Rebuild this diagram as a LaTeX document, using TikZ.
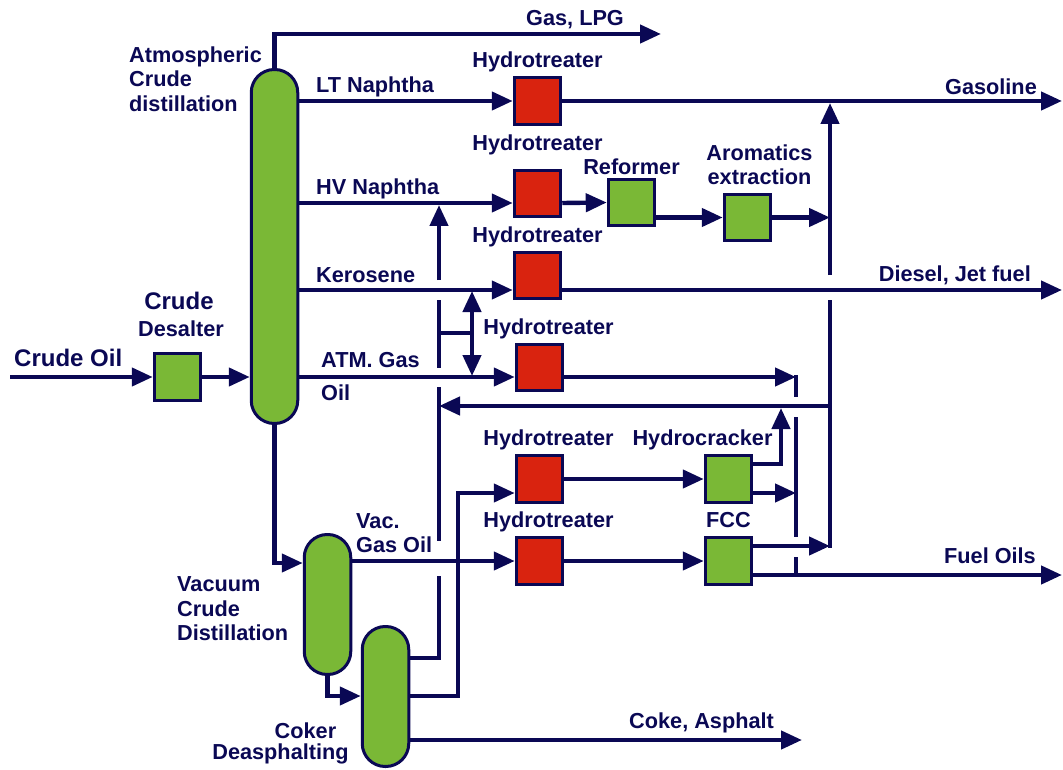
\documentclass[tikz,border=0pt]{standalone}
\usepackage{fontspec}
\setmainfont{Liberation Sans}
\usepackage{tikz}
\usetikzlibrary{arrows.meta,positioning}
\definecolor{myNavy}{RGB}{10,8,84}
\definecolor{myGreen}{RGB}{122,184,54}
\definecolor{myRed}{RGB}{217,35,15}
\tikzset{
    pipe/.style   = {line width=4.4pt, draw=myNavy},
    line/.style   = {pipe, -{Triangle[length=21pt,width=18pt]}},
    both/.style   = {pipe, {Triangle[length=21pt,width=18pt]}-{Triangle[length=21pt,width=18pt]}},
    unit/.style   = {draw=myNavy, line width=3pt, minimum size=46.5pt, inner sep=0pt},
    greenbox/.style = {unit, fill=myGreen},
    redbox/.style   = {unit, fill=myRed},
    column/.style   = {greenbox, minimum width=46.5pt, rounded corners=23pt},
    txt/.style    = {font=\bfseries\fontsize{21.7}{24.5}\selectfont, text=myNavy,
            inner sep=0pt, align=left},
    bigtxt/.style = {txt, font=\bfseries\fontsize{24}{26}\selectfont},
}
\begin{document}
\begin{tikzpicture}[x=1pt, y=-1pt, on grid]
    \useasboundingbox (0,0) rectangle (1063,770);
    % Units
    \node[redbox] (hLT) at (537.5,101) {};
    \node[redbox, below=92.5pt of hLT] (hHV) {};
    \node[redbox, below=82pt of hHV] (hKer) {};
    \node[redbox, below right=92pt and 2pt of hKer] (hAtm) {};
    \node[redbox, below=111.5pt of hAtm] (hCrack) {};
    \node[redbox, below=82pt of hCrack] (hFcc) {};
    \node[greenbox, below right=9pt and 94pt of hHV] (reformer) {};
    \node[greenbox, below right=15pt and 116pt of reformer] (aromatics) {};
    \node[greenbox, right=189pt of hCrack] (cracker) {};
    \node[greenbox, right=189pt of hFcc] (fcc) {};
    \node[greenbox] (desalter) at (177.5,377) {};
    \node[column, minimum height=354pt] (atm) at (274.5,246.5) {};
    \node[column, minimum height=140pt] (vacuum) at (327.5,604.5) {};
    \node[column, minimum height=140pt] (coker) at (385.5,696.5) {};

    % Free ends
    \coordinate (crudeIn) at (10,377);
    \coordinate (gasEnd) at (661,34);
    \coordinate (gasolineEnd) at (1062,101);
    \coordinate (dieselEnd) at (1062,290);
    \coordinate (fuelEnd) at (1062,575);
    \coordinate (cokeEnd) at (802,740);
    \coordinate (mainTop) at (830,103);
    \coordinate (mainA) at (830,275);
    \coordinate (mainB) at (830,300);
    \coordinate (mainC) at (830,548);
    \coordinate (recTop) at (439,205);
    \coordinate (recA) at (439,280);
    \coordinate (recB) at (439,300);
    \coordinate (recC) at (439,368);
    \coordinate (recD) at (439,387);
    \coordinate (recE) at (439,541);
    \coordinate (recF) at (439,576);
    \coordinate (recG) at (439,658);
    \coordinate (midA) at (796,375);
    \coordinate (midB) at (796,397);
    \coordinate (midC) at (796,417);
    \coordinate (midD) at (796,537);
    \coordinate (midE) at (796,557);
    \coordinate (midF) at (796,575);
    \coordinate (swing) at (472,333);

    % Arrows
    \draw[line] (crudeIn) -- (desalter);
    \draw[line] (desalter) -- (atm.west |- desalter);
    \draw[line] (atm.north) -- (atm.north |- gasEnd) -- (gasEnd);
    \draw[line] (atm.east |- hLT) -- (hLT);
    \draw[line] (atm.east |- 0,203) -- ([yshift=-9.5pt]hHV.west);
    \draw[line] (atm.east |- 0,290) -- ([yshift=-14.5pt]hKer.west);
    \draw[line] (atm.east |- desalter) -- ([yshift=-9.5pt]hAtm.west);
    \draw[line] (atm.south) |- (vacuum.west |- 0,563);
    \draw[line] (vacuum.south) |- (coker.west |- 0,696);
    \draw[line] (vacuum.east |- hFcc) -- (hFcc);
    \draw[line] (coker.east |- cokeEnd) -- (cokeEnd);
    \draw[line] (hLT) -- (gasolineEnd);
    \draw[line] ([yshift=-14.5pt]hKer.east) -- (dieselEnd);
    \draw[line] ([yshift=-9.5pt]hHV.east) -- (reformer.west);
    \draw[line] (reformer.east |- aromatics) -- (aromatics);
    \draw[line] (aromatics) -- (mainA |- aromatics);
    \draw[line] (mainA) -- (mainTop);
    \draw[pipe] (mainB) -- (mainC);
    \draw[line] (mainB |- 0,406) -- (recD |- 0,406);
    \draw[line] ([yshift=-9.5pt]hAtm.east) -- (796,377);
    \draw[pipe] (midA) -- (midB);
    \draw[pipe] (midC) -- (midD);
    \draw[pipe] (midE) -- (midF);
    \draw[line] (hCrack) -- (cracker);
    \draw[line] (hFcc) -- (fcc);
    \draw[line] ([yshift=15pt]cracker.east) -| (781,408);
    \draw[line] ([yshift=-14pt]cracker.east) -- (midD |- 0,493);
    \draw[line] ([yshift=15pt]fcc.east) -- (mainC |- 0,546);
    \draw[line] ([yshift=-14pt]fcc.east) -- (fuelEnd);
    \draw[line] (coker.east |- 0,696) -- (458,696) |- ([yshift=-14pt]hCrack.west);
    \draw[line] (recA) -- (recTop);
    \draw[pipe] (recB) -- (recC);
    \draw[pipe] (recD) -- (recE);
    \draw[pipe] (coker.east |- recG) -- (recG) -- (recF);
    \draw[pipe] (recB |- swing) -- (swing);
    \draw[both] (472,291) -- (472,376);

    % Labels
    \node[txt, anchor=center, above=39pt of hLT] (lHydroLT) {Hydrotreater};
    \node[txt, anchor=center, above=49pt of hHV] (lHydroHV) {Hydrotreater};
    \node[txt, anchor=center, above=39pt of hKer] (lHydroKer) {Hydrotreater};
    \node[txt, anchor=center, above=38.5pt of hAtm, xshift=9pt] (lHydroAtm) {Hydrotreater};
    \node[txt, anchor=center, above=39pt of hCrack, xshift=9pt] (lHydroCrack) {Hydrotreater};
    \node[txt, anchor=center, above=39pt of hFcc, xshift=9pt] (lHydroFcc) {Hydrotreater};
    \node[txt, anchor=center, above=35.5pt of reformer] (lReformer) {Reformer};
    \node[txt, anchor=center, above=39pt of cracker, xshift=-26pt] (lCracker) {Hydrocracker};
    \node[txt, anchor=center, above=40.5pt of fcc] (lFcc) {FCC};
    \node[txt, anchor=center, align=center, above=53pt of aromatics, xshift=12pt] (lAromatics) {Aromatics\\extraction};
    \node[bigtxt, anchor=center] (lCrude) at (179,301) {Crude};
    \node[txt, anchor=center] (lDesalter) at (181,329) {Desalter};
    \node[bigtxt, anchor=west] (lCrudeOil) at (14,358) {Crude Oil};
    \node[txt, anchor=west] (lAtm) at (129,79) {Atmospheric\\Crude\\distillation};
    \node[txt, anchor=west] (lGas) at (526,20) {Gas, LPG};
    \node[txt, anchor=west] (lLT) at (316,87) {LT Naphtha};
    \node[txt, anchor=west] (lHV) at (316,189) {HV Naphtha};
    \node[txt, anchor=west] (lKer) at (316,275) {Kerosene};
    \node[txt, anchor=west] (lAtmGas) at (321,360) {ATM. Gas};
    \node[txt, anchor=west] (lOil) at (321,393) {Oil};
    \node[txt, anchor=west] (lVac) at (356,533) {Vac.\\Gas Oil};
    \node[txt, anchor=west] (lVacuum) at (177,609) {Vacuum\\Crude\\Distillation};
    \node[txt, anchor=center] (lCoker) at (305.5,731) {Coker};
    \node[txt, anchor=center] (lDeasph) at (280.5,754) {Deasphalting};
    \node[txt, anchor=west] (lCoke) at (629,723) {Coke, Asphalt};
    \node[txt, anchor=east] (lGasoline) at (1037,87) {Gasoline};
    \node[txt, anchor=east] (lDiesel) at (1031,275) {Diesel, Jet fuel};
    \node[txt, anchor=east] (lFuel) at (1036,556) {Fuel Oils};
\end{tikzpicture}
\end{document}
